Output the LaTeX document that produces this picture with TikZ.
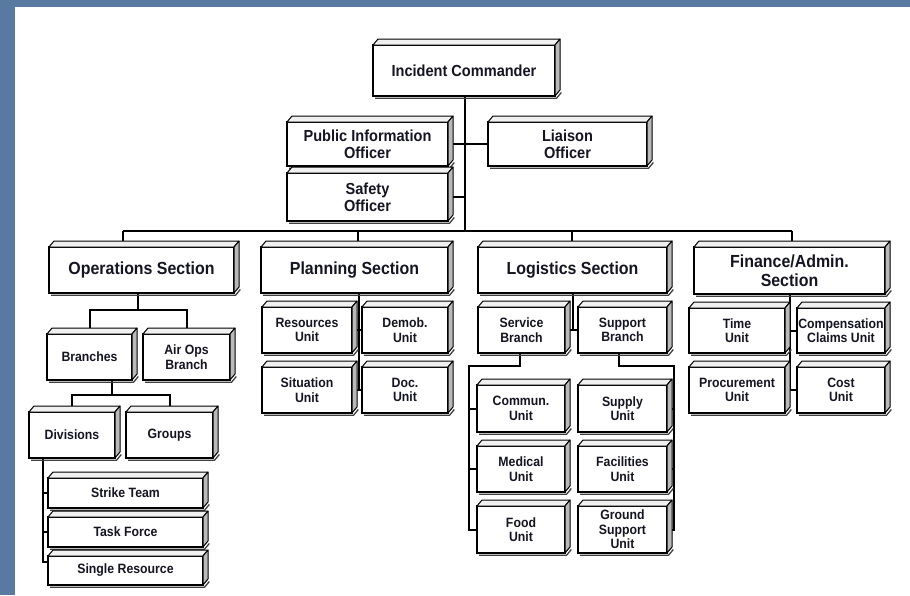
\documentclass[tikz,border=0pt]{standalone}
\usepackage{fontspec}
\setmainfont{Liberation Sans}[FakeStretch=0.91]
\usetikzlibrary{backgrounds}
\definecolor{frameblue}{RGB}{88,122,160}
\definecolor{inkc}{RGB}{20,20,35}
\tikzset{
  box/.style={draw, line width=1.2pt, fill=white, align=center, inner sep=0pt, outer sep=0pt,
    text=inkc, font=\bfseries\fontsize{13.5}{14.4}\selectfont},
  bigtext/.style={font=\bfseries\fontsize{16}{17.3}\selectfont},
  sectext/.style={font=\bfseries\fontsize{17.5}{18.8}\selectfont},
  topface/.style={draw, line width=1pt, fill=gray!12, line join=round},
  sideface/.style={draw, line width=1pt, fill=gray!55, line join=round},
  shadowline/.style={draw=black!75, line width=1.3pt},
  conn/.style={line width=2pt, draw=black},
}
\newcommand\tdfaces[1]{%
  \path[topface] (#1.north west) -- ++(5,-6) -- ([shift={(5,-6)}]#1.north east) -- (#1.north east) -- cycle;
  \path[sideface] (#1.north east) -- ++(5,-6) -- ([shift={(5,-6)}]#1.south east) -- (#1.south east) -- cycle;
  \path[shadowline] ([shift={(2,2.3)}]#1.south west) -- ([shift={(1.5,2.3)}]#1.south east) -- ([shift={(6.3,-3.5)}]#1.south east);
}
\newcommand\bx[7]{%
  \node[box,#6,minimum width=#4pt,minimum height=#5pt] (#1) at (#2,#3) {#7};
  \tdfaces{#1}}
\begin{document}
\begin{tikzpicture}[x=1pt,y=-1pt]
\useasboundingbox (0,0) rectangle (910,595);
\begin{scope}[on background layer]
  \fill[frameblue] (0,0) rectangle (910,595);
  \fill[white] (15,7) rectangle (910,595);
\end{scope}
% command staff
\bx{ic}{464}{70.5}{182}{51}{bigtext}{Incident Commander}
\bx{pio}{367.5}{144}{161}{44}{bigtext}{Public Information\\Officer}
\bx{lia}{567.5}{144}{159}{44}{bigtext}{Liaison\\Officer}
\bx{saf}{367.5}{197}{161}{48}{bigtext}{Safety\\Officer}
% sections
\bx{ops}{141.5}{270}{185}{46}{sectext}{Operations Section}
\bx{pl}{354.5}{270}{187}{46}{sectext}{Planning Section}
\bx{lo}{572.5}{270}{189}{46}{sectext}{Logistics Section}
\bx{fin}{789.5}{270.5}{191}{47}{sectext}{Finance/Admin.\\Section}
% operations
\bx{br}{89.5}{357}{85}{46}{}{Branches}
\bx{air}{186.5}{357}{87}{46}{}{Air Ops\\Branch}
\bx{div}{72}{435}{86}{46}{}{Divisions}
\bx{grp}{169.5}{435}{87}{46}{}{Groups}
\bx{st}{125.5}{493}{155}{30}{}{Strike Team}
\bx{tf}{125.5}{532}{155}{30}{}{Task Force}
\bx{sr}{125.5}{570.5}{155}{29}{}{Single Resource}
% planning
\bx{res}{307}{330}{90}{46}{}{Resources\\Unit}
\bx{dem}{405}{330}{86}{46}{}{Demob.\\Unit}
\bx{sit}{307}{390}{90}{46}{}{Situation\\Unit}
\bx{doc}{405}{390}{86}{46}{}{Doc.\\Unit}
% logistics
\bx{svc}{521.5}{330}{87}{46}{}{Service\\Branch}
\bx{sup}{622.5}{330}{89}{46}{}{Support\\Branch}
\bx{com}{521}{408.5}{88}{47}{}{Commun.\\Unit}
\bx{med}{521}{469}{88}{46}{}{Medical\\Unit}
\bx{food}{521}{529.5}{88}{47}{}{Food\\Unit}
\bx{sply}{622.5}{408.5}{89}{47}{}{Supply\\Unit}
\bx{fac}{622.5}{469}{89}{46}{}{Facilities\\Unit}
\bx{gsu}{622.5}{529.5}{89}{47}{}{Ground\\Support\\Unit}
% finance
\bx{time}{737}{330.5}{96}{45}{}{Time\\Unit}
\bx{comp}{841}{330.5}{88}{45}{}{Compensation\\Claims Unit}
\bx{proc}{737}{390}{96}{46}{}{Procurement\\Unit}
\bx{cost}{841}{390}{88}{46}{}{Cost\\Unit}
% connector coordinates
\coordinate (busL) at (123,231);
\coordinate (busR) at (792,231);
\coordinate (trunk) at (465,231);
\coordinate (bPl) at (358,231);
\coordinate (bLo) at (572,231);
\coordinate (opsj) at (138,310);
\coordinate (brj) at (112,395);
\coordinate (divx) at (43,0);
\coordinate (plx) at (359,0);
\coordinate (lox) at (573,0);
\coordinate (svj) at (520,366);
\coordinate (lx) at (469,0);
\coordinate (spj) at (619,366);
\coordinate (rx) at (674,0);
\coordinate (fx) at (790,0);
\begin{scope}[on background layer]
  \draw[conn] (ic.south -| trunk) -- (trunk);
  \draw[conn] (busL) -- (busR);
  \draw[conn] (pio.east) -- (lia.west);
  \draw[conn] (saf.east) -- (saf.east -| trunk);
  \draw[conn] (busL) -- (busL |- ops.north);
  \draw[conn] (bPl) -- (bPl |- pl.north);
  \draw[conn] (bLo) -- (bLo |- lo.north);
  \draw[conn] (busR) -- (busR |- fin.north);
  % operations
  \draw[conn] (opsj |- ops.south) -- (opsj);
  \draw[conn] (br.north) |- (opsj) -| (air.north);
  \draw[conn] (brj |- br.south) -- (brj);
  \draw[conn] (div.north) |- (brj) -| (grp.north);
  \draw[conn] (div.south -| divx) |- ([yshift=8.5]sr.west);
  \draw[conn] (st.west) -- (st.west -| divx);
  \draw[conn] (tf.west) -- (tf.west -| divx);
  % planning
  \draw[conn] (pl.south -| plx) -- (sit.east -| plx);
  \draw[conn] (res.east) -- (dem.west);
  \draw[conn] (sit.east) -- (doc.west);
  % logistics
  \draw[conn] (lo.south -| lox) -- (svc.east -| lox);
  \draw[conn] (svc.east) -- (sup.west);
  \draw[conn] (svc.south -| svj) -- (svj) -- (svj -| lx) |- (food.west);
  \draw[conn] (com.west) -- (com.west -| lx);
  \draw[conn] (med.west) -- (med.west -| lx);
  \draw[conn] (sup.south -| spj) -- (spj) -- (spj -| rx) |- (gsu.east);
  \draw[conn] (sply.east) -- (sply.east -| rx);
  \draw[conn] (fac.east) -- (fac.east -| rx);
  % finance
  \draw[conn] (fin.south -| fx) -- (proc.east -| fx);
  \draw[conn] (time.east) -- (comp.west);
  \draw[conn] (proc.east) -- (cost.west);
\end{scope}
\end{tikzpicture}
\end{document}
